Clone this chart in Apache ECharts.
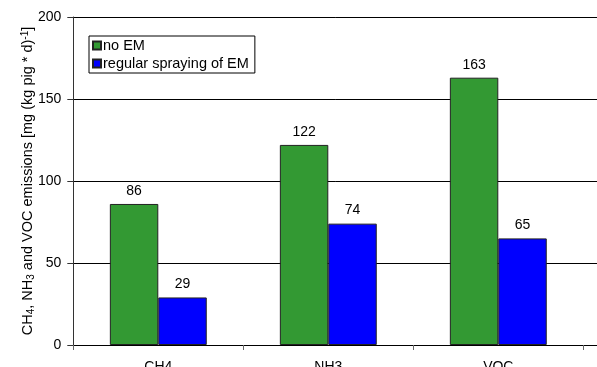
<!DOCTYPE html>
<html>
<head>
<meta charset="utf-8">
<script src="https://cdn.jsdelivr.net/npm/echarts@6/dist/echarts.min.js"></script>
<style>
    html, body { margin: 0; padding: 0; background: #fff; }
    #chart { width: 597px; height: 367px; }
</style>
</head>
<body>
<div id="chart"></div>
<script>
    // categories and values
    var categories = ['CH4', 'NH3', 'VOC'];
    var noEM = [86, 122, 163];
    var regularSpraying = [29, 74, 65];
    var yTicks = [0, 50, 100, 150, 200];

    var font = 'Liberation Sans, Arial, sans-serif';

    var chart = echarts.init(document.getElementById('chart'));
    chart.setOption({
        animation: false,
        textStyle: {fontFamily: font},
        legend: {
            orient: 'vertical',
            left: 89,
            top: 36,
            itemWidth: 8,
            itemHeight: 8,
            itemGap: 3,
            padding: [2, 6, 2, 3],
            borderColor: '#000',
            borderWidth: 1,
            backgroundColor: '#fff',
            icon: 'rect',
            textStyle: {fontSize: 14.5, color: '#000', fontFamily: font, padding: [0, 0, 0, -3]},
            data: ['no EM', 'regular spraying of EM']
        },
        grid: [
            // bars
            {left: 73.3, top: 17, width: 510, bottom: 22, containLabel: false, outerBoundsMode: 'none'},
            // gridlines running to the right edge (cropped plot area)
            {left: 73.3, top: 17, right: 0, bottom: 22, containLabel: false, outerBoundsMode: 'none'}
        ],
        xAxis: [
            {
                type: 'category',
                gridIndex: 0,
                data: categories,
                axisLine: {lineStyle: {color: '#000'}},
                axisTick: {show: true, length: 5, lineStyle: {color: '#666'}},
                axisLabel: {color: '#000', fontSize: 14, margin: 15, fontFamily: font}
            },
            {
                type: 'category',
                gridIndex: 1,
                data: categories,
                axisLine: {lineStyle: {color: '#000'}},
                axisTick: {show: false},
                axisLabel: {show: false}
            }
        ],
        yAxis: [
            {
                type: 'value',
                gridIndex: 0,
                min: yTicks[0],
                max: yTicks[yTicks.length - 1],
                interval: 50,
                axisLine: {show: true, lineStyle: {color: '#333'}},
                axisTick: {show: true, length: 6, lineStyle: {color: '#333'}},
                splitLine: {show: false},
                axisLabel: {color: '#000', fontSize: 14, margin: 12, fontFamily: font},
                name: 'CH{sub|4}, NH{sub|3} and VOC emissions [mg (kg pig * d){sup|-1}]',
                nameLocation: 'middle',
                nameGap: 37,
                nameMoveOverlap: false,
                nameTextStyle: {
                    color: '#000',
                    fontSize: 14.5,
                    fontFamily: font,
                    rich: {
                        sub: {fontSize: 10, verticalAlign: 'bottom', padding: [6, 0, 0, 0], color: '#000', fontFamily: font},
                        sup: {fontSize: 10, verticalAlign: 'top', padding: [0, 0, 6, 0], color: '#000', fontFamily: font}
                    }
                }
            },
            {
                type: 'value',
                gridIndex: 1,
                min: yTicks[0],
                max: yTicks[yTicks.length - 1],
                interval: 50,
                axisLine: {show: false},
                axisTick: {show: false},
                axisLabel: {show: false},
                splitLine: {show: true, lineStyle: {color: '#000', width: 1}}
            }
        ],
        series: [
            {
                name: 'no EM',
                type: 'bar',
                xAxisIndex: 0,
                yAxisIndex: 0,
                data: noEM,
                barGap: '0%',
                barCategoryGap: '43%',
                itemStyle: {color: '#339933', borderColor: '#222', borderWidth: 1},
                label: {show: true, position: 'top', distance: 6, color: '#000', fontSize: 14, fontFamily: font}
            },
            {
                name: 'regular spraying of EM',
                type: 'bar',
                xAxisIndex: 0,
                yAxisIndex: 0,
                data: regularSpraying,
                itemStyle: {color: '#0000ff', borderColor: '#222', borderWidth: 1},
                label: {show: true, position: 'top', distance: 6, color: '#000', fontSize: 14, fontFamily: font}
            }
        ]
    });
</script>
</body>
</html>
